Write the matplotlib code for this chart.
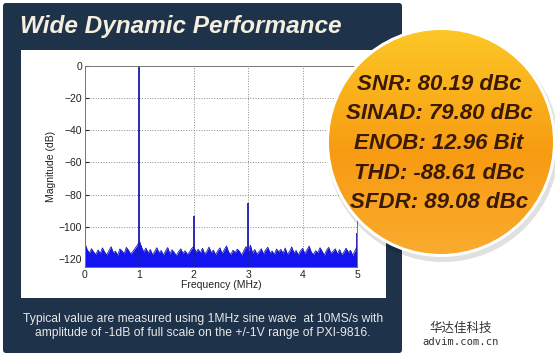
import matplotlib.pyplot as plt
import numpy as np
from matplotlib.patches import Circle, FancyBboxPatch, Rectangle

plt.rcParams['font.family'] = ['Liberation Sans', 'DejaVu Sans']

noise_db = [
    -110.5, -114.2, -116.3, -113.6, -115.8, -117.2, -114.4, -116.6, -113.1, -115.7,
    -117.5, -114.8, -112.4, -116.1, -115.2, -117.7, -113.8, -115.0, -116.7, -112.8,
    -114.6, -116.9, -115.3, -113.4, -111.6, -108.9, -112.7, -115.6, -113.2, -116.4,
    -114.1, -117.3, -115.5, -113.0, -116.2, -114.7, -117.6, -115.1, -112.9, -116.8,
    -114.3, -116.0, -117.9, -115.4, -113.7, -116.5, -114.9, -117.1, -115.8, -113.5,
    -112.2, -115.9, -114.0, -116.3, -113.3, -117.0, -115.2, -112.6, -116.1, -114.5,
    -117.4, -115.0, -113.1, -116.7, -114.2, -111.9, -115.7, -117.2, -114.6, -116.0,
    -113.9, -115.3, -117.6, -114.8, -112.3, -115.9, -111.4, -116.4, -114.1, -117.0,
    -115.5, -113.6, -116.9, -114.4, -112.7, -116.2, -115.1, -117.3, -113.8, -115.6,
    -114.0, -116.6, -113.2, -117.1, -115.4, -112.5, -116.3, -114.7, -117.5, -115.0,
    -113.4, -116.8, -114.3, -112.0, -115.8, -117.2, -114.9, -116.1, -113.0, -115.3,
    -117.7, -114.5, -112.8, -116.5, -115.2, -113.7, -116.9, -114.2, -117.4, -115.7,
    -113.3, -116.0, -114.6, -117.8, -115.1, -112.2,
]
tone_mhz = [0, 1, 2, 3, 5]
tone_db = [-73, 0, -93.5, -85, -104]

x_ticks = [0, 1, 2, 3, 4, 5]
y_ticks = [0, -20, -40, -60, -80, -100, -120]

specs = [
    "SNR: 80.19 dBc",
    "SINAD: 79.80 dBc",
    "ENOB: 12.96 Bit",
    "THD: -88.61 dBc",
    "SFDR: 89.08 dBc",
]
title = "Wide Dynamic Performance"
note = ("Typical value are measured using 1MHz sine wave  at 10MS/s with\n"
        "amplitude of -1dB of full scale on the +/-1V range of PXI-9816.")

W, H = 555, 356
fig = plt.figure(figsize=(W / 100, H / 100), dpi=100)

# background layer in pixel units (y downwards)
bg = fig.add_axes([0, 0, 1, 1], zorder=0)
bg.set_xlim(0, W)
bg.set_ylim(H, 0)
bg.axis('off')
bg.add_patch(FancyBboxPatch((3, 3), 399, 350, boxstyle="round,pad=0,rounding_size=3",
                            fc='#1e3249', ec='none'))
bg.add_patch(Rectangle((21, 50), 365, 248, fc='white', ec='none'))
bg.text(20, 27, title, color='#f4efdf', fontsize=17.6, fontweight='bold', style='italic',
        va='center', ha='left')
bg.text(203, 326, note, color='#e6e8ea', fontsize=8.7,
        ha='center', va='center', linespacing=1.3)
bg.text(461, 328, "华达佳科技", color='#333333', fontsize=9,
        family=['Noto Sans CJK SC', 'DejaVu Sans'], ha='center', va='center')
bg.text(461, 342, "advim.com.cn", color='#333333', fontsize=7.6,
        family='DejaVu Sans Mono', ha='center', va='center')

# spectrum
ax = fig.add_axes([85 / W, (H - 267) / H, 272 / W, 201 / H], zorder=2)
ax.set_axisbelow(True)
freq = np.linspace(0, 5, len(noise_db))
ax.fill_between(freq, noise_db, -125, color='#1414f0', lw=0)
ax.plot(freq, noise_db, color='#1c1cb4', lw=0.6)
ax.vlines(tone_mhz, -125, tone_db, color='#1c1cb0', lw=1.3)
ax.set_xlim(0, 5)
ax.set_ylim(-125, 0)
ax.set_xticks(x_ticks)
ax.set_yticks(y_ticks)
ax.tick_params(direction='in', length=3, labelsize=7.5, colors='#222222', pad=2)
ax.grid(True, ls=':', color='#8a8a8a', lw=0.7)
for s in ax.spines.values():
    s.set_color('#777777')
    s.set_linewidth(0.7)
ax.set_xlabel('Frequency (MHz)', fontsize=7.5, labelpad=0, color='#222222')
ax.set_ylabel('Magnitude (dB)', fontsize=7.5, labelpad=2, color='#222222')

# orange badge on top
fg = fig.add_axes([0, 0, 1, 1], zorder=3)
fg.patch.set_visible(False)
fg.axis('off')
cx, cy, r = 441, 142, 112
fg.add_patch(Circle((cx + 2, cy + 4), r + 4, fc='#000000', alpha=0.12, ec='none'))
fg.add_patch(Circle((cx, cy), r + 3, fc='white', ec='none'))
disc = Circle((cx, cy), r, fc='none', ec='none')
fg.add_patch(disc)
t = np.linspace(0, 1, 200)[:, None]
top = np.array([0.99, 0.78, 0.15])
mid = np.array([0.97, 0.61, 0.07])
low = np.array([0.98, 0.67, 0.18])
col = np.where(t < 0.55, top + (mid - top) * (t / 0.55), mid + (low - mid) * ((t - 0.55) / 0.45))
grad = np.repeat(col[:, None, :], 2, axis=1).reshape(200, 2, 3)
im = fg.imshow(grad, extent=(cx - r, cx + r, cy + r, cy - r), aspect='auto',
               interpolation='bilinear', zorder=1)
im.set_clip_path(disc)
for i, line in enumerate(specs):
    fg.text(cx - 2, 84 + i * 29.7, line, color='#3a1905', fontsize=16, fontweight='bold',
            style='italic', ha='center', va='center', zorder=2)
fg.set_xlim(0, W)
fg.set_ylim(H, 0)

fig.savefig('out.png', dpi=100)
